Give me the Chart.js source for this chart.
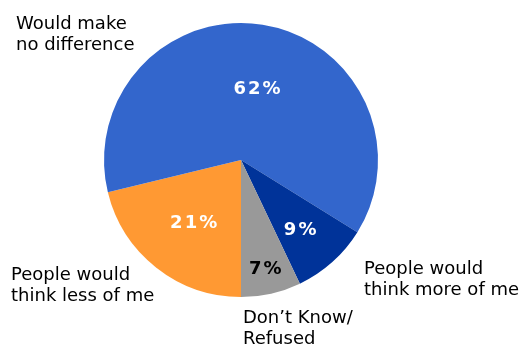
<!DOCTYPE html>
<html>
<head>
<meta charset="utf-8">
<script src="https://cdn.jsdelivr.net/npm/chart.js@4/dist/chart.umd.min.js"></script>
<style>
  html, body { margin: 0; padding: 0; background: #ffffff; }
  #wrap { width: 524px; height: 345px; }
</style>
</head>
<body>
<div id="wrap"><canvas id="pie" width="524" height="345"></canvas></div>
<script>
// Survey answers, listed clockwise starting at six o'clock
const categories = [
  "People would think less of me",
  "Would make no difference",
  "People would think more of me",
  "Don\u2019t Know/Refused"
];
const shares = [21, 62, 9, 7];
const shareLabels = ["21%", "62%", "9%", "7%"];
const categoryLines = [
  ["People would", "think less of me"],
  ["Would make", "no difference"],
  ["People would", "think more of me"],
  ["Don\u2019t Know/", "Refused"]
];

// Where each percentage sits inside its slice: fraction of the radius,
// and a small turn (degrees) away from the slice's middle
const insideRadius = [0.58, 0.53, 0.67, 0.82];
const insideTurn = [-1.6, 3.6, 1.7, 0.3];
const insideColor = ["#ffffff", "#ffffff", "#ffffff", "#000000"];
// Where each category caption starts (left x, first baseline y)
const captionAnchor = [[11, 280], [16, 29], [364, 274], [243, 323]];

const sliceLabels = {
  id: "sliceLabels",
  afterDatasetsDraw(chart) {
    const ctx = chart.ctx;
    const arcs = chart.getDatasetMeta(0).data;
    ctx.save();
    ctx.font = "bold 18px 'DejaVu Sans', Verdana, sans-serif";
    ctx.letterSpacing = "2px";
    ctx.textAlign = "center";
    ctx.textBaseline = "middle";
    arcs.forEach((arc, i) => {
      const p = arc.getProps(["x", "y", "startAngle", "endAngle", "outerRadius"], true);
      const mid = (p.startAngle + p.endAngle) / 2 + insideTurn[i] * Math.PI / 180;
      const r = p.outerRadius * insideRadius[i];
      ctx.fillStyle = insideColor[i];
      ctx.fillText(shareLabels[i], p.x + Math.cos(mid) * r + 1, p.y + Math.sin(mid) * r);
    });
    ctx.letterSpacing = "0px";
    ctx.font = "18px 'DejaVu Sans', Verdana, sans-serif";
    ctx.textAlign = "left";
    ctx.textBaseline = "alphabetic";
    ctx.fillStyle = "#000000";
    categoryLines.forEach((lines, i) => {
      lines.forEach((line, j) => {
        ctx.fillText(line, captionAnchor[i][0], captionAnchor[i][1] + j * 21);
      });
    });
    ctx.restore();
  }
};

new Chart(document.getElementById("pie"), {
  type: "pie",
  data: {
    labels: categories,
    datasets: [{
      data: shares,
      backgroundColor: ["#FF9933", "#3366CC", "#003399", "#999999"],
      borderWidth: 0
    }]
  },
  options: {
    responsive: false,
    devicePixelRatio: 1,
    animation: false,
    rotation: 180,
    layout: { padding: { left: 104, top: 23, right: 146, bottom: 48 } },
    plugins: {
      legend: { display: false },
      tooltip: { enabled: false }
    }
  },
  plugins: [sliceLabels]
});
</script>
</body>
</html>
